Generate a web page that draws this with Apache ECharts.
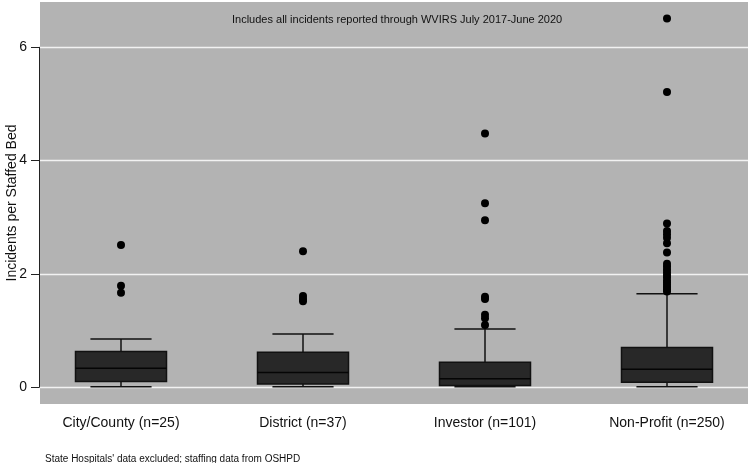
<!DOCTYPE html>
<html>
<head>
<meta charset="utf-8">
<script src="https://cdn.jsdelivr.net/npm/echarts@6/dist/echarts.min.js"></script>
<style>html,body{margin:0;padding:0;background:#fff}#c{width:750px;height:463px}</style>
</head>
<body>
<div id="c"></div>
<script>
const categories = ['City/County (n=25)', 'District (n=37)', 'Investor (n=101)', 'Non-Profit (n=250)'];
// [min(lower whisker), q1, median, q3, max(upper whisker)]
const boxCity = [0.01, 0.10, 0.335, 0.63, 0.85];
const boxDistrict = [0.01, 0.06, 0.26, 0.62, 0.94];
const boxInvestor = [0.01, 0.03, 0.15, 0.44, 1.03];
const boxNonProfit = [0.01, 0.09, 0.32, 0.70, 1.65];
const outCity = [2.51, 1.79, 1.67];
const outDistrict = [2.40, 1.61, 1.56, 1.52];
const outInvestor = [4.48, 3.25, 2.95, 1.60, 1.56, 1.28, 1.22, 1.10];
const outNonProfit = [6.51, 5.21, 2.89, 2.76, 2.70, 2.64, 2.54, 2.38, 2.18, 2.13, 2.08, 2.03, 1.98, 1.94, 1.89, 1.85, 1.81, 1.77, 1.73, 1.69];
const yTicks = [0, 2, 4, 6];
const titleText = 'Includes all incidents reported through WVIRS July 2017-June 2020';
const footText = "State Hospitals' data excluded; staffing data from OSHPD";
const yName = 'Incidents per Staffed Bed';

const boxes = [boxCity, boxDistrict, boxInvestor, boxNonProfit];
const outliers = [outCity, outDistrict, outInvestor, outNonProfit];
const boxData = boxes.map((b, i) => [i].concat(b));
const outData = [];
outliers.forEach((arr, i) => arr.forEach(v => outData.push([i, v])));

const FONT = 'Liberation Sans, Arial, Helvetica, sans-serif';
const chart = echarts.init(document.getElementById('c'), null, {renderer: 'canvas'});
const option = {
  backgroundColor: '#ffffff',
  animation: false,
  title: [
    {text: titleText, left: 227, top: 9, textStyle: {fontFamily: FONT, fontSize: 11, fontWeight: 'normal', color: '#111'}},
    {text: footText, left: 40, top: 449, textStyle: {fontFamily: FONT, fontSize: 10, fontWeight: 'normal', color: '#111'}}
  ],
  grid: [
    {left: 40, right: 2, top: 2, bottom: 59, show: true, backgroundColor: '#b3b3b3', borderWidth: 0, outerBoundsMode: 'none', containLabel: false},
    {left: 39, right: 2, top: 47.3, bottom: 75.7, outerBoundsMode: 'none', containLabel: false},
    {left: 30, right: -8, top: 2, bottom: 59, outerBoundsMode: 'none', containLabel: false}
  ],
  xAxis: [
    {gridIndex: 0, type: 'value', show: false},
    {gridIndex: 1, type: 'value', show: false},
    {gridIndex: 2, type: 'category', data: categories, boundaryGap: true,
     axisLine: {show: false}, axisTick: {show: false}, splitLine: {show: false},
     axisLabel: {fontFamily: FONT, fontSize: 14, color: '#111', margin: 12, interval: 0}}
  ],
  yAxis: [
    {gridIndex: 0, type: 'value', show: false},
    {gridIndex: 1, type: 'value', min: 0, max: 6, interval: 2,
     axisLine: {show: true, lineStyle: {color: '#222', width: 1}},
     axisTick: {show: true, length: 8, lineStyle: {color: '#222', width: 1}},
     axisLabel: {fontFamily: FONT, fontSize: 14, color: '#111', margin: 12,
                 formatter: v => yTicks.includes(v) ? String(v) : ''},
     splitLine: {show: true, lineStyle: {color: '#f2f2f2', width: 1.3}}},
    {gridIndex: 2, type: 'value', min: -0.295, max: 6.8, name: yName, nameLocation: 'middle', nameGap: 11,
     nameTextStyle: {fontFamily: FONT, fontSize: 14, color: '#111'},
     axisLine: {show: false}, axisTick: {show: false}, axisLabel: {show: false}, splitLine: {show: false}}
  ],
  series: [
    {
      type: 'custom', xAxisIndex: 2, yAxisIndex: 2, data: boxData,
      encode: {x: 0, y: [1, 2, 3, 4, 5]},
      renderItem: function (params, api) {
        const x = api.value(0);
        const bw = api.size([1, 0])[0];
        const hb = bw * 0.25, hc = bw * 0.168;
        const pMin = api.coord([x, api.value(1)]);
        const pQ1 = api.coord([x, api.value(2)]);
        const pMed = api.coord([x, api.value(3)]);
        const pQ3 = api.coord([x, api.value(4)]);
        const pMax = api.coord([x, api.value(5)]);
        const ls = {stroke: '#111', lineWidth: 1.5};
        const cx = pMed[0];
        return {type: 'group', children: [
          {type: 'line', shape: {x1: cx, y1: pMax[1], x2: cx, y2: pQ3[1]}, style: ls},
          {type: 'line', shape: {x1: cx, y1: pMin[1], x2: cx, y2: pQ1[1]}, style: ls},
          {type: 'line', shape: {x1: cx - hc, y1: pMax[1], x2: cx + hc, y2: pMax[1]}, style: ls},
          {type: 'line', shape: {x1: cx - hc, y1: pMin[1], x2: cx + hc, y2: pMin[1]}, style: ls},
          {type: 'rect', shape: {x: cx - hb, y: pQ3[1], width: 2 * hb, height: pQ1[1] - pQ3[1]},
           style: {fill: '#282828', stroke: '#111', lineWidth: 1.5}},
          {type: 'line', shape: {x1: cx - hb, y1: pMed[1], x2: cx + hb, y2: pMed[1]}, style: {stroke: '#050505', lineWidth: 1.5}}
        ]};
      },
      z: 3
    },
    {
      type: 'scatter', xAxisIndex: 2, yAxisIndex: 2, data: outData,
      symbol: 'circle', symbolSize: 8, itemStyle: {color: '#000', opacity: 1}, z: 4
    }
  ]
};
chart.setOption(option);
</script>
</body>
</html>
